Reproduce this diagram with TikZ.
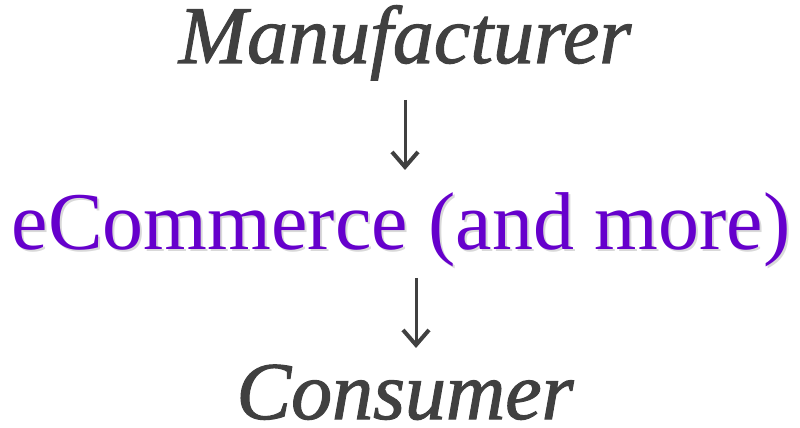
\documentclass[tikz,border=0pt]{standalone}
\usepackage{fontspec}
\setmainfont{Liberation Serif}[ItalicFeatures={FakeBold=1.3}]
\usetikzlibrary{arrows.meta}
\definecolor{darktext}{HTML}{404040}
\definecolor{ecompurple}{HTML}{6600CC}
\newcommand{\shadowtext}[1]% text with soft grey shadow
{\rlap{\raisebox{-2pt}{\hspace{2pt}\textcolor{black!15}{#1}}}#1}
\tikzset{
	endpoint/.style={anchor=base, inner sep=0pt, text=darktext, font=\fontsize{82}{88}\selectfont\itshape},
	middle/.style={anchor=base, inner sep=0pt, text=ecompurple, font=\fontsize{82}{88}\selectfont},
	flow/.style={darktext, line width=3pt, -{Straight Barb[length=15pt,width=26pt,line width=4pt]}}
}

\begin{document}
\begin{tikzpicture}[x=1pt,y=1pt]
	\useasboundingbox (0,0) rectangle (800,428);
	\node[endpoint] (man) at (405,365){Manufacturer};%top
	\node[middle] (ecom) at (401,178){\shadowtext{eCommerce (and more)}};%middle
	\node[endpoint] (cons) at (405,9){Consumer};%bottom
	\draw[flow] ([yshift=-37pt]man.base) -- ([yshift=80pt]ecom.base -| man.base);
	\draw[flow] ([xshift=15pt,yshift=-28pt]ecom.base) -- ([xshift=15pt,yshift=71pt]ecom.base |- cons.base);
\end{tikzpicture}
\end{document}
